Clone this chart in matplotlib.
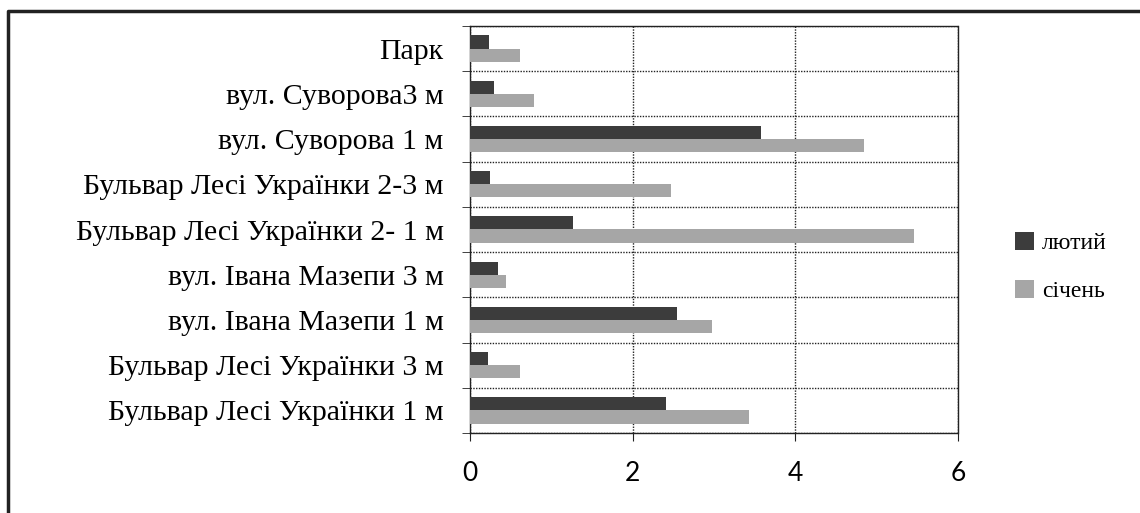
import numpy as np
import matplotlib
matplotlib.use("Agg")
import matplotlib.pyplot as plt
from matplotlib.lines import Line2D
from matplotlib.ticker import FixedLocator

# categories listed bottom -> top, as they appear on the chart
locations = [
    "Бульвар Лесі Українки 1 м",
    "Бульвар Лесі Українки 3 м",
    "вул. Івана Мазепи 1 м",
    "вул. Івана Мазепи 3 м",
    "Бульвар Лесі Українки 2- 1 м",
    "Бульвар Лесі Українки 2-3 м",
    "вул. Суворова 1 м",
    "вул. Суворова3 м",
    "Парк",
]
feb = [2.41, 0.22, 2.55, 0.34, 1.27, 0.25, 3.58, 0.29, 0.23]   # лютий
jan = [3.43, 0.61, 2.97, 0.44, 5.46, 2.47, 4.85, 0.79, 0.61]   # січень
xticks = [0, 2, 4, 6]

serif = ["Liberation Serif", "DejaVu Serif"]

fig = plt.figure(figsize=(11.4, 5.13), dpi=100)
ax = fig.add_axes([470 / 1140, 1 - 433 / 513, (958 - 470) / 1140, (433 - 26) / 513])

y = np.arange(len(locations))
h = 0.29
ax.barh(y + h / 2, feb, height=h, color="#3c3c3c", label="лютий", zorder=3)
ax.barh(y - h / 2, jan, height=h, color="#a6a6a6", label="січень", zorder=3)

ax.set_xlim(0, 6)
ax.set_ylim(-0.5, len(locations) - 0.5)
ax.set_xticks(xticks)
ax.set_xticklabels([str(t) for t in xticks], family=["Lato", "DejaVu Sans"], fontsize=19)
ax.set_yticks(y)
ax.set_yticklabels(locations, family=serif, fontsize=21.5)
ax.yaxis.set_minor_locator(FixedLocator(np.arange(-0.5, len(locations), 1.0)))

ax.tick_params(axis="y", which="major", length=0, pad=19)
ax.tick_params(axis="y", which="minor", length=6, direction="out", color="#222")
ax.tick_params(axis="x", length=6, pad=14, color="#222")

dot = (0, (1, 1))
ax.grid(axis="y", which="minor", color="#222", lw=1, ls=dot, zorder=1)
ax.grid(axis="x", which="major", color="#222", lw=1, ls=dot, zorder=1)
for s in ax.spines.values():
    s.set_color("#222")
    s.set_linestyle(dot)
    s.set_linewidth(1)

fig.legend(loc="center left", bbox_to_anchor=(1003 / 1140, 1 - 267 / 513),
           frameon=False, prop={"family": serif, "size": 17},
           handlelength=0.8, handleheight=0.8, handletextpad=0.35,
           labelspacing=1.1, borderpad=0)

# scanned page frame
fx, fy = 8 / 1140, 1 - 11 / 513
fig.add_artist(Line2D([fx, fx, 1], [0, fy, fy], color="#222", lw=2.5,
                      transform=fig.transFigure))

fig.savefig("out.png", dpi=100)
